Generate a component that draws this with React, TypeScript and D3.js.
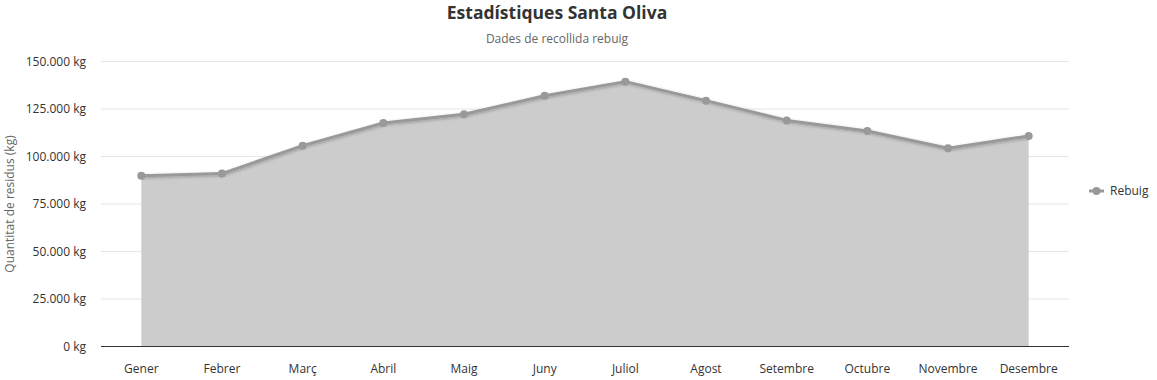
import React from "react";
import * as d3 from "d3";

const months = ["Gener", "Febrer", "Març", "Abril", "Maig", "Juny", "Juliol", "Agost", "Setembre", "Octubre", "Novembre", "Desembre"];
const rebuig = [89900, 91000, 105700, 117600, 122200, 132000, 139400, 129400, 119000, 113400, 104300, 110800];
const yTicks = [0, 25000, 50000, 75000, 100000, 125000, 150000];
const seriesName = "Rebuig";
const titleText = "Estadístiques Santa Oliva";
const subtitleText = "Dades de recollida rebuig";
const yTitle = "Quantitat de residus (kg)";

const W = 1157, H = 380;
const L = 101, R = 1069, T = 61.5, B = 346.5;
const FONT = "'Open Sans', 'Noto Sans', sans-serif";

const fmt = (v: number) => {
  const s = d3.format(",")(v).replace(/,/g, ".");
  return `${s} kg`;
};

export default function App() {
  const x = d3.scaleBand<string>().domain(months).range([L, R]);
  const y = d3.scaleLinear().domain([0, 150000]).range([B, T]);
  const cx = (m: string) => (x(m) ?? 0) + x.bandwidth() / 2;
  const pts: [number, number][] = months.map((m, i) => [cx(m), y(rebuig[i])]);
  const line = d3.line<[number, number]>()(pts) ?? "";
  const area = d3.area<[number, number]>().x(d => d[0]).y0(B).y1(d => d[1])(pts) ?? "";

  return (
    <svg width={W} height={H} style={{ position: "absolute", left: 0, top: 0, fontFamily: FONT }}>
      <defs>
        <filter id="sh" x="-5%" y="-50%" width="110%" height="200%">
          <feDropShadow dx="1" dy="1" stdDeviation="1.5" floodColor="#000" floodOpacity="0.25" />
        </filter>
      </defs>
      <rect width={W} height={H} fill="#fff" />
      <text x={557} y={19} textAnchor="middle" fontSize={17.5} fontWeight="bold" fill="#333">{titleText}</text>
      <text x={557} y={43} textAnchor="middle" fontSize={12} fill="#666">{subtitleText}</text>
      {yTicks.map(t => (
        <g key={t}>
          {t > 0 && <line x1={L} x2={R} y1={y(t)} y2={y(t)} stroke="#e6e6e6" strokeWidth={1} />}
          <text x={86} y={y(t) + 4} textAnchor="end" fontSize={12} fill="#333">{fmt(t)}</text>
        </g>
      ))}
      <text transform={`translate(14,${(T + B) / 2}) rotate(-90)`} textAnchor="middle" fontSize={12} fill="#666">{yTitle}</text>
      <path d={area} fill="#cccccc" />
      <path d={line} fill="none" stroke="#999999" strokeWidth={3} strokeLinejoin="round" filter="url(#sh)" />
      {pts.map((p, i) => (
        <circle key={i} cx={p[0]} cy={p[1]} r={4} fill="#999999" />
      ))}
      <line x1={L} x2={R} y1={B} y2={B} stroke="#333" strokeWidth={1} />
      {months.map(m => (
        <text key={m} x={cx(m)} y={373} textAnchor="middle" fontSize={12} fill="#333">{m}</text>
      ))}
      <g>
        <line x1={1089} x2={1104} y1={191} y2={191} stroke="#999999" strokeWidth={3} />
        <circle cx={1096.5} cy={191} r={4} fill="#999999" />
        <text x={1110} y={195} fontSize={12} fill="#333">{seriesName}</text>
      </g>
    </svg>
  );
}
